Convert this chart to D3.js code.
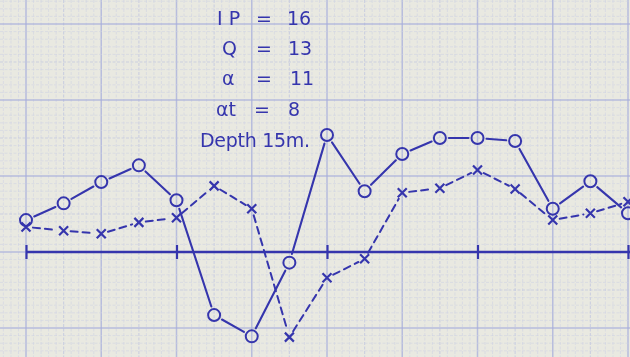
<!DOCTYPE html>
<html>
<head>
<meta charset="utf-8">
<script src="https://cdn.jsdelivr.net/npm/d3@7"></script>
<style>
  html, body { margin: 0; padding: 0; background: #e9e9e1; }
  svg { display: block; }
</style>
</head>
<body>
<svg id="chart" width="630" height="357"></svg>
<script>
// Stations along the profile (equal spacing)
const stations = d3.range(0, 17);

// Profile readings (graph units, zero on the axis)
const circleSeries = [4.2, 6.4, 9.2, 11.4, 6.8, -8.3, -11.1, -1.4, 15.4, 8.0, 12.9, 15.0, 15.0, 14.6, 5.7, 9.3, 5.1];
const crossSeries  = [3.3, 2.8, 2.4, 3.9, 4.5, 8.7, 5.7, -11.2, -3.4, -0.9, 7.8, 8.4, 10.8, 8.3, 4.2, 5.1, 6.6];

// Axis tick stations
const tickStations = [0, 4, 8, 12, 16];

// Annotation block
const noteLabels = ["I P", "Q", "α", "αt"];
const noteValues = ["16", "13", "11", "8"];
const depthNote = "Depth 15m.";

const W = 630, H = 357;
const ink = "#3636ad";

const svg = d3.select("#chart");

const x = d3.scaleLinear().domain([0, 16]).range([26, 628]);
const y = d3.scaleLinear().domain([0, 10]).range([252, 176]);

// ---- graph paper ----
const paper = svg.append("g");
paper.append("rect").attr("width", W).attr("height", H).attr("fill", "#e9e9e1");

const xStep = (x(1) - x(0)) / 5;        // minor division in px
const xMinor = d3.range(-3, 85);         // minor indices relative to x(0)
const yMinor = d3.range(-14, 34);

function gridStyle(i) {
  if (i % 10 === 0) return { c: "#a7addb", w: 1.5, o: 0.75 };
  if (i % 5 === 0) return { c: "#bfc4e0", w: 1.1, o: 0.7 };
  return { c: "#cfd2e4", w: 0.9, o: 0.65 };
}

paper.selectAll("line.gv").data(xMinor).join("line")
  .attr("class", "gv")
  .attr("x1", i => x(0) + i * xStep).attr("x2", i => x(0) + i * xStep)
  .attr("y1", 0).attr("y2", H)
  .attr("stroke", i => gridStyle(i).c)
  .attr("stroke-width", i => gridStyle(i).w)
  .attr("stroke-opacity", i => gridStyle(i).o)
  .attr("stroke-dasharray", i => i % 10 === 0 ? null : "3,1.5");

paper.selectAll("line.gh").data(yMinor).join("line")
  .attr("class", "gh")
  .attr("y1", i => y(i)).attr("y2", i => y(i))
  .attr("x1", 0).attr("x2", W)
  .attr("stroke", i => gridStyle(i).c)
  .attr("stroke-width", i => gridStyle(i).w)
  .attr("stroke-opacity", i => gridStyle(i).o)
  .attr("stroke-dasharray", i => i % 10 === 0 ? null : "3,1.5");

// ---- ink layer ----
const defs = svg.append("defs");
defs.append("filter").attr("id", "soft")
  .append("feGaussianBlur").attr("stdDeviation", 0.45);

const inkG = svg.append("g").attr("filter", "url(#soft)");

// zero line with cross ticks
inkG.append("line")
  .attr("x1", x(0)).attr("x2", 630)
  .attr("y1", y(0)).attr("y2", y(0))
  .attr("stroke", ink).attr("stroke-width", 2.4);

const axis = d3.axisBottom(x).tickValues(tickStations).tickSize(14).tickFormat("");
inkG.append("g")
  .attr("transform", `translate(0,${y(0) - 7})`)
  .call(axis)
  .call(g => g.select(".domain").remove())
  .call(g => g.selectAll(".tick line").attr("stroke", ink).attr("stroke-width", 2.2));

// connecting segments that stop short of each marker
function segments(vals, gap) {
  const pts = stations.map((s, i) => [x(s), y(vals[i])]);
  const segs = [];
  for (let i = 0; i < pts.length - 1; i++) {
    const [x1, y1] = pts[i], [x2, y2] = pts[i + 1];
    const len = Math.hypot(x2 - x1, y2 - y1);
    const ux = (x2 - x1) / len, uy = (y2 - y1) / len;
    segs.push([x1 + ux * gap, y1 + uy * gap, x2 - ux * gap, y2 - uy * gap]);
  }
  return segs;
}

inkG.selectAll("line.crossSeg").data(segments(crossSeries, 7)).join("line")
  .attr("class", "crossSeg")
  .attr("x1", d => d[0]).attr("y1", d => d[1]).attr("x2", d => d[2]).attr("y2", d => d[3])
  .attr("stroke", ink).attr("stroke-width", 2)
  .attr("stroke-dasharray", "7,5").attr("stroke-linecap", "round");

inkG.selectAll("line.circSeg").data(segments(circleSeries, 9)).join("line")
  .attr("class", "circSeg")
  .attr("x1", d => d[0]).attr("y1", d => d[1]).attr("x2", d => d[2]).attr("y2", d => d[3])
  .attr("stroke", ink).attr("stroke-width", 2.1).attr("stroke-linecap", "round");

// cross markers
const cr = 4.5;
inkG.selectAll("path.cross").data(stations).join("path")
  .attr("class", "cross")
  .attr("d", (s, i) => {
    const cx = x(s), cy = y(crossSeries[i]);
    return `M${cx - cr},${cy - cr}L${cx + cr},${cy + cr}M${cx - cr},${cy + cr}L${cx + cr},${cy - cr}`;
  })
  .attr("stroke", ink).attr("stroke-width", 2.2).attr("fill", "none");

// circle markers
inkG.selectAll("circle.pt").data(stations).join("circle")
  .attr("class", "pt")
  .attr("cx", s => x(s)).attr("cy", (s, i) => y(circleSeries[i]))
  .attr("r", 6)
  .attr("fill", "none").attr("stroke", ink).attr("stroke-width", 2);

// annotation text
const font = "'DejaVu Sans', 'Liberation Sans', sans-serif";
const rowBase = [25, 55, 85, 116];
const labelX = [217, 222, 222, 216];
const valueX = [287, 288, 290, 288];

const notes = inkG.append("g")
  .attr("fill", ink).attr("font-family", font).attr("font-size", 19);

notes.selectAll("text.lab").data(noteLabels).join("text")
  .attr("class", "lab")
  .attr("x", (d, i) => labelX[i]).attr("y", (d, i) => rowBase[i])
  .text(d => d);

notes.selectAll("text.eq").data(noteLabels).join("text")
  .attr("class", "eq")
  .attr("x", (d, i) => i === 3 ? 254 : 256).attr("y", (d, i) => rowBase[i])
  .text("=");

notes.selectAll("text.val").data(noteValues).join("text")
  .attr("class", "val")
  .attr("x", (d, i) => valueX[i]).attr("y", (d, i) => rowBase[i])
  .text(d => d);

notes.append("text")
  .attr("x", 200).attr("y", 147)
  .attr("textLength", 110)
  .text(depthNote);
</script>
</body>
</html>
